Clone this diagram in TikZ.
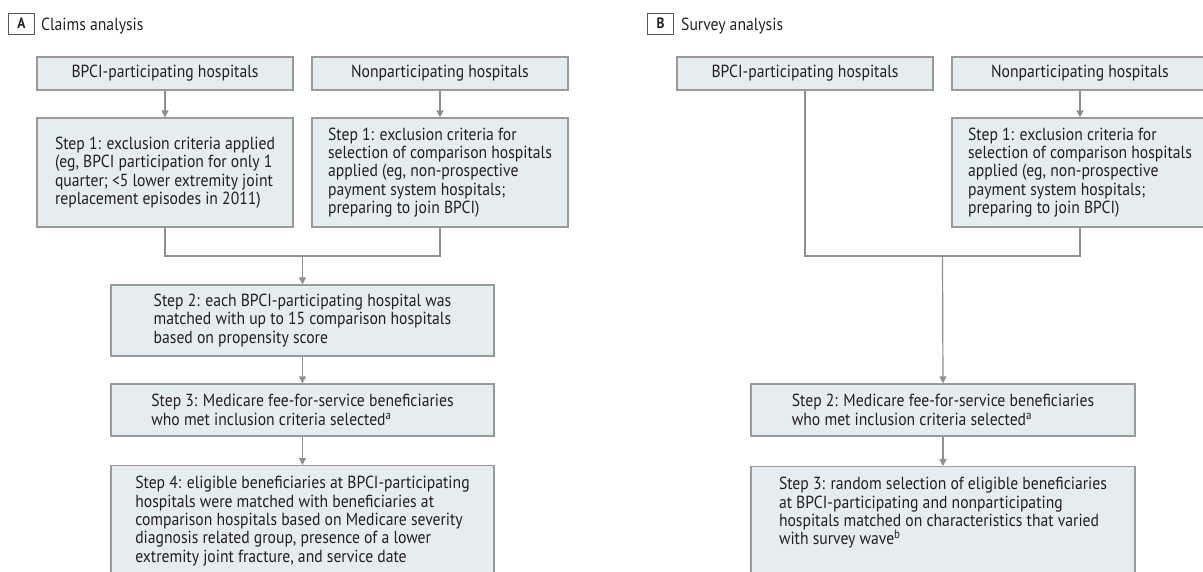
\documentclass[tikz,border=0pt]{standalone}
\usepackage{fontspec}
\setmainfont{PT Sans}[FakeStretch=0.895]
\usetikzlibrary{arrows.meta}
\definecolor{boxfill}{HTML}{E6EDF1}
\definecolor{boxline}{HTML}{9A9A9A}
\definecolor{connline}{HTML}{8F8F8F}
\definecolor{txtcol}{HTML}{231F20}
\definecolor{labline}{HTML}{555555}
\newcommand{\bodyfont}{\fontsize{17.5}{18.4}\selectfont}
\begin{document}
\begin{tikzpicture}[x=1pt,y=-1pt,
  flowbox/.style={draw=boxline, fill=boxfill, line width=1.2pt, inner sep=0pt,
    text=txtcol, align=left, font=\bodyfont},
  topbox/.style={flowbox, minimum width=256pt, minimum height=33pt},
  stepone/.style={flowbox, minimum width=256pt, minimum height=109pt},
  widebox/.style={flowbox, minimum width=383pt},
  plaintxt/.style={inner sep=0pt, text=txtcol, align=left, font=\bodyfont},
  conn/.style={draw=connline, line width=1.2pt},
  arr/.style={conn, -{Triangle[width=7pt,length=7pt]}, color=connline},
  labbox/.style={draw=labline, line width=1pt, minimum width=26pt, minimum height=21pt,
    inner sep=0pt, text=txtcol, font=\fontsize{15}{16}\selectfont\bfseries},
  titletxt/.style={inner sep=0pt, text=txtcol, font=\fontsize{17.5}{18}\selectfont, anchor=base west}
]
\useasboundingbox (0,0) rectangle (1203,571);
\clip (0,0) rectangle (1203,571);

% ---------- Panel A ----------
\node[labbox] (la) at (21.5,23.5) {A};
\node[titletxt] (ta) at (41,30) {Claims analysis};

\node[topbox] (a1) at (165,73.5) {BPCI-participating hospitals};
\node[topbox] (a2) at (440,73.5) {Nonparticipating hospitals};
\node[stepone] (a3) at (165,172.5) {Step 1: exclusion criteria applied\\(eg, BPCI participation for only 1\\quarter; <5 lower extremity joint\\replacement episodes in 2011)};
\node[stepone] (a4) at (440,172.5) {Step 1: exclusion criteria for\\selection of comparison hospitals\\applied (eg, non-prospective\\payment system hospitals;\\preparing to join BPCI)};
\node[widebox, minimum height=71pt] (a5) at (302.5,320.5) {Step 2: each BPCI-participating hospital was\\matched with up to 15 comparison hospitals\\based on propensity score};
\node[widebox, minimum height=52pt] (a6) at (302.5,410) {Step 3: Medicare fee-for-service beneficiaries\\who met inclusion criteria selected\textsuperscript{a}};
\node[widebox, minimum height=150pt, anchor=north] (a7) at (302.5,465) {};
\node[plaintxt, anchor=north] (a7t) at ([yshift=-11pt]a7.north) {Step 4: eligible beneficiaries at BPCI-participating\\hospitals were matched with beneficiaries at\\comparison hospitals based on Medicare severity\\diagnosis related group, presence of a lower\\extremity joint fracture, and service date};

\coordinate (ja) at (302.5,256);
\draw[arr] (a1) -- (a3);
\draw[arr] (a2) -- (a4);
\draw[conn] (a3.south) |- (ja) -| (a4.south);
\draw[arr] (ja) -- (a5.north);
\draw[arr] (a5) -- (a6);
\draw[arr] (a6) -- (a7);

% ---------- Panel B ----------
\node[labbox] (lb) at (660.5,23.5) {B};
\node[titletxt] (tb) at (681,30) {Survey analysis};

\node[topbox] (b1) at (805,73.5) {BPCI-participating hospitals};
\node[topbox] (b2) at (1080,73.5) {Nonparticipating hospitals};
\node[stepone] (b4) at (1080,172.5) {Step 1: exclusion criteria for\\selection of comparison hospitals\\applied (eg, non-prospective\\payment system hospitals;\\preparing to join BPCI)};
\node[widebox, minimum width=384pt, minimum height=52pt] (b5) at (943,410) {Step 2: Medicare fee-for-service beneficiaries\\who met inclusion criteria selected\textsuperscript{a}};
\node[widebox, minimum width=384pt, minimum height=150pt, anchor=north] (b6) at (943,466) {};
\node[plaintxt, anchor=north] (b6t) at ([yshift=-11pt]b6.north) {Step 3: random selection of eligible beneficiaries\\at BPCI-participating and nonparticipating\\hospitals matched on characteristics that varied\\with survey wave\textsuperscript{b}};

\coordinate (jb) at (942.5,256);
\draw[arr] (b2) -- (b4);
\draw[conn] (b1.south) |- (jb) -| (b4.south);
\draw[arr] (jb) -- (b5.north);
\draw[arr] (b5) -- (b6);
\end{tikzpicture}
\end{document}
